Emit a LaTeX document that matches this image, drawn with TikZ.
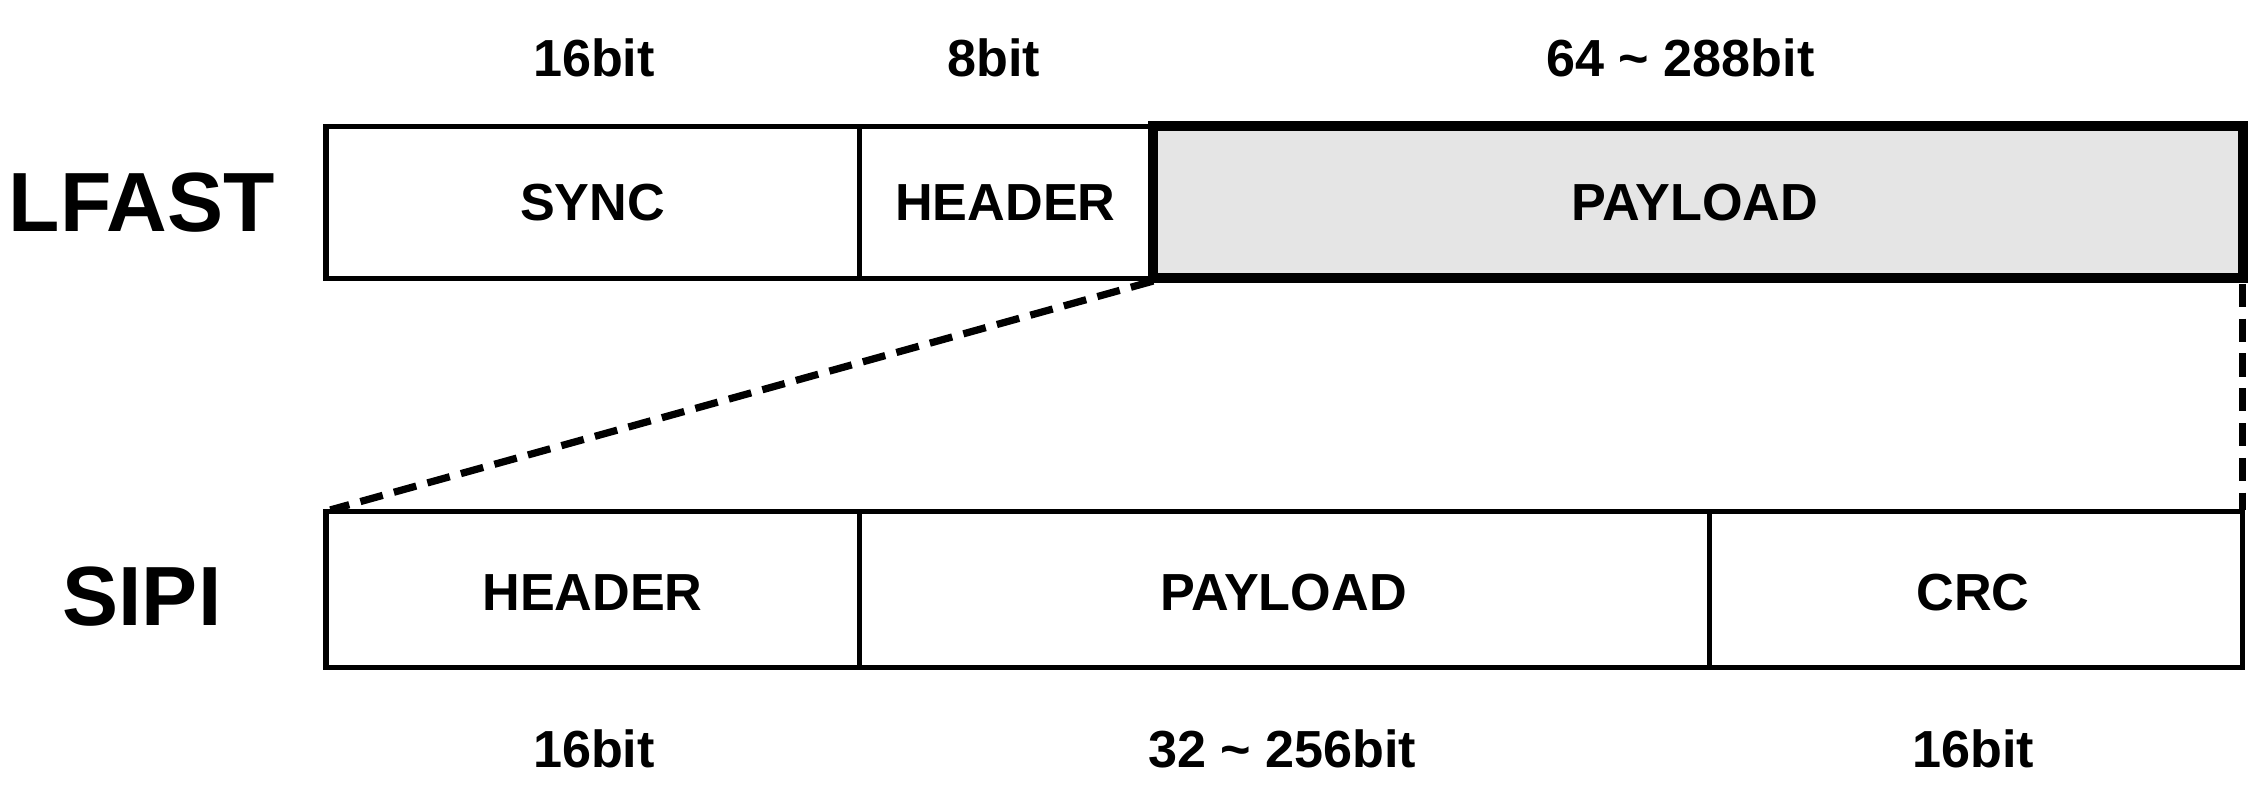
\documentclass[tikz,border=0pt]{standalone}
\usepackage{fontspec}
\setmainfont{Liberation Sans}
\begin{document}
\begin{tikzpicture}[x=1pt,y=-1pt,
  box/.style={draw,line width=3.5pt,minimum height=0},
  lbl/.style={font=\fontsize{36}{40}\selectfont\bfseries},
  big/.style={font=\fontsize{58}{62}\selectfont\bfseries},
  dsh/.style={line width=5pt,dash pattern=on 16pt off 8pt}]
\useasboundingbox (0,0) rectangle (1560,551);
% LFAST row
\draw[box] (225,87) rectangle (593,192);
\draw[box] (593,87) rectangle (796,192);
\draw[line width=7pt,fill=black!10] (796,87) rectangle (1548,192);
\node[lbl] (sync) at (409,140) {SYNC};
\node[lbl] (hdr1) at (694,140) {HEADER};
\node[lbl] (pay1) at (1170,140) {PAYLOAD};
\node[big] (lfast) at (98,140) {LFAST};
\node[lbl] at (410,40) {16bit};
\node[lbl] at (686,40) {8bit};
\node[lbl] at (1160,40) {64 \char"7E\ 288bit};
% SIPI row
\draw[box] (225,353) rectangle (593,461);
\draw[box] (593,353) rectangle (1180,461);
\draw[box] (1180,353) rectangle (1548,461);
\node[lbl] (hdr2) at (409,409) {HEADER};
\node[lbl] (pay2) at (886,409) {PAYLOAD};
\node[lbl] (crc) at (1362,409) {CRC};
\node[big] (sipi) at (98,412) {SIPI};
\node[lbl] at (410,517) {16bit};
\node[lbl] at (885,517) {32 \char"7E\ 256bit};
\node[lbl] at (1362,517) {16bit};
% dashed
\coordinate (a) at (796,194); \coordinate (b) at (228,352);
\coordinate (c) at (1548,196); \coordinate (d) at (1548,352);
\draw[dsh] (a) -- (b);
\draw[dsh] (c) -- (d);
\end{tikzpicture}
\end{document}
